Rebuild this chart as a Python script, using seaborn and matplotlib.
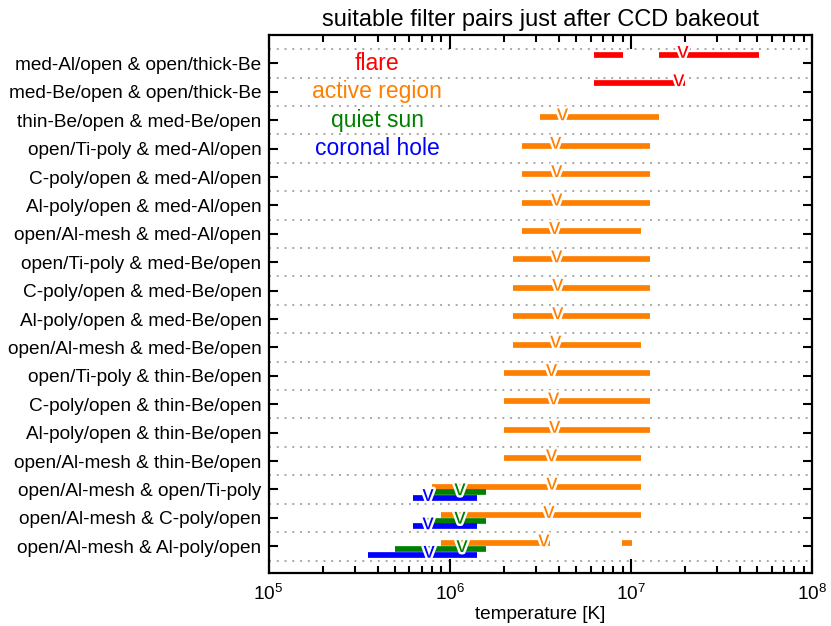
import numpy as np
import pandas as pd
import matplotlib
matplotlib.use("Agg")
import matplotlib.pyplot as plt
import matplotlib.patheffects as pe
import matplotlib.transforms as mtransforms
from matplotlib.ticker import LogLocator, NullFormatter
import seaborn as sns

# filter pair combinations, top to bottom
pair_labels = [
    "med-Al/open & open/thick-Be",
    "med-Be/open & open/thick-Be",
    "thin-Be/open & med-Be/open",
    "open/Ti-poly & med-Al/open",
    "C-poly/open & med-Al/open",
    "Al-poly/open & med-Al/open",
    "open/Al-mesh & med-Al/open",
    "open/Ti-poly & med-Be/open",
    "C-poly/open & med-Be/open",
    "Al-poly/open & med-Be/open",
    "open/Al-mesh & med-Be/open",
    "open/Ti-poly & thin-Be/open",
    "C-poly/open & thin-Be/open",
    "Al-poly/open & thin-Be/open",
    "open/Al-mesh & thin-Be/open",
    "open/Al-mesh & open/Ti-poly",
    "open/Al-mesh & C-poly/open",
    "open/Al-mesh & Al-poly/open",
]

categories = ["flare", "active region", "quiet sun", "coronal hole"]

# usable temperature ranges [K] (row index, low, high) and peak temperatures
flare_rows = [0, 0, 1]
flare_lo = [6.3e6, 1.43e7, 6.3e6]
flare_hi = [9.0e6, 5.1e7, 2.0e7]
flare_peak_rows = [0, 1]
flare_peak = [1.94e7, 1.84e7]

ar_rows = [2, 3, 4, 5, 6, 7, 8, 9, 10, 11, 12, 13, 14, 15, 16, 17, 17]
ar_lo = [3.15e6, 2.5e6, 2.5e6, 2.5e6, 2.5e6, 2.24e6, 2.24e6, 2.24e6, 2.24e6,
         2.0e6, 2.0e6, 2.0e6, 2.0e6, 8.0e5, 8.95e5, 8.95e5, 8.9e6]
ar_hi = [1.43e7, 1.27e7, 1.27e7, 1.27e7, 1.14e7, 1.27e7, 1.27e7, 1.27e7, 1.14e7,
         1.27e7, 1.27e7, 1.27e7, 1.14e7, 1.14e7, 1.14e7, 3.58e6, 1.01e7]
ar_peak_rows = [2, 3, 4, 5, 6, 7, 8, 9, 10, 11, 12, 13, 14, 15, 16, 17]
ar_peak = [4.2e6, 3.85e6, 3.9e6, 3.9e6, 3.8e6, 3.9e6, 3.95e6, 3.95e6, 3.85e6,
           3.65e6, 3.75e6, 3.8e6, 3.65e6, 3.67e6, 3.53e6, 3.31e6]

qs_rows = [15, 16, 17]
qs_lo = [7.8e5, 7.0e5, 5.0e5]
qs_hi = [1.59e6, 1.59e6, 1.59e6]
qs_peak_rows = [15, 16, 17]
qs_peak = [1.14e6, 1.14e6, 1.17e6]

ch_rows = [15, 16, 17]
ch_lo = [6.27e5, 6.27e5, 3.54e5]
ch_hi = [1.42e6, 1.42e6, 1.42e6]
ch_peak_rows = [15, 16, 17]
ch_peak = [7.6e5, 7.6e5, 7.7e5]

# styling
palette = {"flare": "#ff0000", "active region": "#ff7f00",
           "quiet sun": "#008000", "coronal hole": "#0000ff"}
lane = {"flare": 0.2, "active region": 0.4, "quiet sun": 0.6, "coronal hole": 0.8}

ranges = {
    "flare": (flare_rows, flare_lo, flare_hi, flare_peak_rows, flare_peak),
    "active region": (ar_rows, ar_lo, ar_hi, ar_peak_rows, ar_peak),
    "quiet sun": (qs_rows, qs_lo, qs_hi, qs_peak_rows, qs_peak),
    "coronal hole": (ch_rows, ch_lo, ch_hi, ch_peak_rows, ch_peak),
}

# long-form table: every range is one two-point line segment
records = []
seg = 0
for cat in categories:
    rows, lo, hi, _, _ = ranges[cat]
    for r, a, b in zip(rows, lo, hi):
        y = r + lane[cat]
        records.append({"T": a, "y": y, "category": cat, "seg": seg})
        records.append({"T": b, "y": y, "category": cat, "seg": seg})
        seg += 1
seg_df = pd.DataFrame(records)

sns.set_theme(style="ticks")
plt.rcParams.update({
    "font.family": ["Liberation Sans", "DejaVu Sans"],
    "text.color": "black",
    "axes.labelcolor": "black",
    "axes.edgecolor": "black",
    "xtick.color": "black",
    "ytick.color": "black",
    "lines.solid_capstyle": "butt",
})

fig = plt.figure(figsize=(8.31, 6.26), dpi=100)
ax = fig.add_axes([268.5 / 831, 1 - 573 / 626, 543.5 / 831, (573 - 35.3) / 626])

# dotted separators between filter pairs
for j in range(len(pair_labels) + 1):
    ax.axhline(j, color="#a8a8a8", lw=1.4, ls=(0, (1, 3)), zorder=0.5)

sns.lineplot(data=seg_df, x="T", y="y", hue="category", units="seg",
             estimator=None, sort=False, palette=palette, linewidth=4.1,
             legend=False, ax=ax, zorder=2)

# peak-temperature markers
halo = [pe.withStroke(linewidth=3.5, foreground="white")]
for cat in categories:
    _, _, _, prow, pT = ranges[cat]
    for r, t in zip(prow, pT):
        ax.text(t, r + lane[cat] + 0.1, "v", color=palette[cat], ha="center",
                va="baseline", fontsize=16, path_effects=halo, zorder=3)

# category key in the upper left
blend = mtransforms.blended_transform_factory(ax.transAxes, ax.transData)
for i, cat in enumerate(categories):
    ax.text(0.2, i + 0.5, cat, transform=blend, color=palette[cat],
            ha="center", va="center", fontsize=16.5)

ax.set_xscale("log")
ax.set_xlim(1e5, 1e8)
ax.set_ylim(18.44, -0.49)
ax.xaxis.set_major_locator(LogLocator(base=10, numticks=10))
ax.xaxis.set_minor_locator(LogLocator(base=10, subs=np.arange(2, 10), numticks=10))
ax.xaxis.set_minor_formatter(NullFormatter())
ax.set_yticks(np.arange(len(pair_labels)) + 0.5, labels=pair_labels)

ax.tick_params(axis="y", direction="in", length=6.5, width=1.5, left=True,
               right=True, labelsize=13.7, pad=5)
ax.tick_params(axis="x", which="major", direction="in", length=10, width=1.5,
               top=True, bottom=True, labelsize=13.7, pad=8)
ax.tick_params(axis="x", which="minor", direction="in", length=5, width=1.5,
               top=True, bottom=True)
for s in ax.spines.values():
    s.set_linewidth(1.6)
    s.set_visible(True)

ax.set_xlabel("temperature [K]", fontsize=13.7, labelpad=1)
ax.set_ylabel("")
ax.set_title("suitable filter pairs just after CCD bakeout", fontsize=17, pad=7)

fig.savefig("out.png", dpi=100)
